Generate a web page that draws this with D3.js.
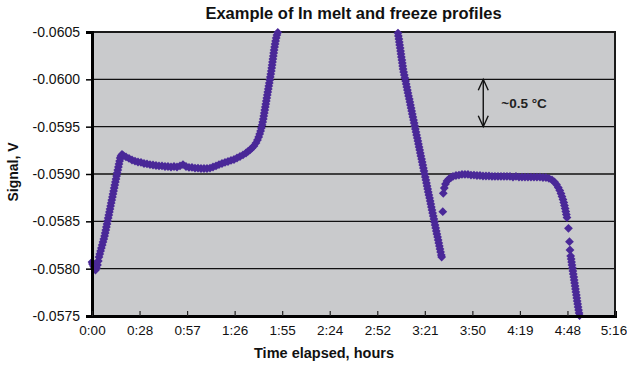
<!DOCTYPE html>
<html>
<head>
<meta charset="utf-8">
<script src="https://cdn.jsdelivr.net/npm/d3@7"></script>
<style>
  body { margin: 0; background: #fff; }
  svg { display: block; font-family: "Liberation Sans", Arial, sans-serif; }
</style>
</head>
<body>
<svg id="chart" width="627" height="365"></svg>
<script>
// Time elapsed in minutes, signal in volts
const meltRise = [
  [0.00, -0.058070], [0.30, -0.058049], [0.91, -0.058028], [1.51, -0.058007], [2.12, -0.057986],
  [2.73, -0.058007], [3.33, -0.058039], [3.82, -0.058081], [4.24, -0.058123], [4.72, -0.058155],
  [5.21, -0.058187], [5.69, -0.058218], [6.18, -0.058250], [6.66, -0.058282], [7.15, -0.058313],
  [7.63, -0.058345], [7.99, -0.058377], [8.36, -0.058408], [8.72, -0.058440], [9.09, -0.058472],
  [9.45, -0.058504], [9.81, -0.058535], [10.18, -0.058567], [10.54, -0.058599], [10.90, -0.058630],
  [11.27, -0.058662], [11.63, -0.058694], [11.99, -0.058725], [12.36, -0.058757], [12.72, -0.058789],
  [13.08, -0.058820], [13.45, -0.058852], [13.81, -0.058884], [14.17, -0.058916], [14.54, -0.058947],
  [14.90, -0.058979], [15.26, -0.059011], [15.63, -0.059042], [15.99, -0.059074], [16.35, -0.059106],
  [16.72, -0.059137], [17.08, -0.059169], [17.56, -0.059190], [18.17, -0.059206]
];
const meltPlateau = [
  [19.08, -0.059195], [20.59, -0.059180], [22.41, -0.059164], [24.23, -0.059148], [26.04, -0.059137],
  [27.86, -0.059127], [29.68, -0.059122], [31.50, -0.059111], [33.31, -0.059106], [35.13, -0.059100],
  [36.95, -0.059095], [38.76, -0.059090], [40.58, -0.059085], [42.40, -0.059085], [44.22, -0.059079],
  [46.03, -0.059079], [47.85, -0.059074], [49.67, -0.059079], [51.48, -0.059074], [53.30, -0.059085],
  [55.12, -0.059100], [56.94, -0.059079], [58.75, -0.059069], [60.57, -0.059069], [62.39, -0.059063],
  [64.20, -0.059063], [66.02, -0.059058], [67.84, -0.059058], [69.65, -0.059058], [71.47, -0.059063],
  [73.29, -0.059074], [75.11, -0.059085], [76.92, -0.059100], [78.74, -0.059111], [80.56, -0.059122],
  [82.37, -0.059132], [84.19, -0.059143], [86.01, -0.059153], [87.83, -0.059169], [89.64, -0.059185],
  [91.46, -0.059201], [93.28, -0.059222], [94.49, -0.059238], [95.70, -0.059254], [96.91, -0.059275],
  [98.12, -0.059296], [99.33, -0.059328]
];
const meltUp = [
  [100.24, -0.059359], [100.97, -0.059391], [101.57, -0.059423], [102.12, -0.059454], [102.60, -0.059486],
  [103.03, -0.059518], [103.39, -0.059549], [103.76, -0.059581], [104.06, -0.059613], [104.36, -0.059644],
  [104.66, -0.059676], [104.97, -0.059708], [105.27, -0.059739], [105.57, -0.059771], [105.88, -0.059803],
  [106.18, -0.059835], [106.48, -0.059866], [106.78, -0.059898], [107.09, -0.059930], [107.39, -0.059961],
  [107.69, -0.059993], [108.00, -0.060025], [108.30, -0.060056], [108.60, -0.060088], [108.84, -0.060120],
  [109.09, -0.060151], [109.33, -0.060183], [109.57, -0.060215], [109.81, -0.060246], [110.05, -0.060278],
  [110.30, -0.060310], [110.60, -0.060342], [110.90, -0.060373], [111.21, -0.060405], [111.57, -0.060437],
  [111.99, -0.060468], [112.54, -0.060495]
];
const coolDown = [
  [185.34, -0.060489], [185.58, -0.060458], [185.89, -0.060426], [186.13, -0.060394], [186.37, -0.060363],
  [186.67, -0.060331], [186.92, -0.060299], [187.16, -0.060268], [187.40, -0.060236], [187.70, -0.060204],
  [187.95, -0.060173], [188.19, -0.060141], [188.43, -0.060109], [188.79, -0.060077], [189.16, -0.060046],
  [189.52, -0.060014], [189.95, -0.059982], [190.31, -0.059951], [190.67, -0.059919], [191.04, -0.059887],
  [191.40, -0.059856], [191.76, -0.059824], [192.19, -0.059792], [192.55, -0.059761], [192.91, -0.059729],
  [193.28, -0.059697], [193.64, -0.059666], [194.00, -0.059634], [194.37, -0.059602], [194.79, -0.059570],
  [195.15, -0.059539], [195.52, -0.059507], [195.88, -0.059475], [196.24, -0.059444], [196.61, -0.059412],
  [197.03, -0.059380], [197.40, -0.059349], [197.76, -0.059317], [198.12, -0.059285], [198.49, -0.059254],
  [198.85, -0.059222], [199.21, -0.059190], [199.64, -0.059158], [200.00, -0.059127], [200.36, -0.059095],
  [200.73, -0.059063], [201.09, -0.059032], [201.45, -0.059000], [201.88, -0.058968], [202.24, -0.058937],
  [202.60, -0.058905], [202.97, -0.058873], [203.33, -0.058842], [203.69, -0.058810], [204.06, -0.058778],
  [204.48, -0.058747], [204.85, -0.058715], [205.21, -0.058683], [205.57, -0.058651], [205.94, -0.058620],
  [206.30, -0.058588], [206.72, -0.058556], [207.09, -0.058525], [207.45, -0.058493], [207.81, -0.058461],
  [208.18, -0.058430], [208.54, -0.058398], [208.90, -0.058366], [209.33, -0.058335], [209.69, -0.058303],
  [210.05, -0.058271], [210.42, -0.058239], [210.78, -0.058208], [211.14, -0.058176], [211.57, -0.058144],
  [211.81, -0.058123]
];
const freezePlateau = [
  [212.48, -0.058602], [212.78, -0.058796], [213.39, -0.058852], [214.11, -0.058894], [215.02, -0.058926],
  [216.23, -0.058947], [217.44, -0.058963], [218.66, -0.058974], [220.47, -0.058984], [222.29, -0.058989],
  [224.11, -0.058995], [225.92, -0.058995], [227.74, -0.058995], [229.56, -0.058989], [231.37, -0.058989],
  [233.19, -0.058984], [235.01, -0.058984], [236.83, -0.058979], [238.64, -0.058979], [240.46, -0.058979],
  [242.28, -0.058974], [244.09, -0.058974], [245.91, -0.058974], [247.73, -0.058974], [249.55, -0.058974],
  [251.36, -0.058974], [253.18, -0.058974], [255.00, -0.058968], [256.81, -0.058974], [258.63, -0.058968],
  [260.45, -0.058968], [262.27, -0.058968], [264.08, -0.058968], [265.90, -0.058968], [267.72, -0.058968],
  [269.53, -0.058968], [271.35, -0.058968], [273.17, -0.058963], [274.98, -0.058963], [276.80, -0.058953],
  [278.62, -0.058937], [280.13, -0.058916], [281.34, -0.058889]
];
const freezeDown = [
  [282.44, -0.058857], [283.34, -0.058826], [284.07, -0.058794], [284.68, -0.058762], [285.28, -0.058731],
  [285.77, -0.058699], [286.19, -0.058667], [286.61, -0.058636], [286.98, -0.058604], [287.34, -0.058572],
  [287.70, -0.058540], [288.61, -0.058426], [289.22, -0.058285], [289.52, -0.058197], [289.95, -0.058134],
  [290.25, -0.058102], [290.49, -0.058070], [290.73, -0.058039], [291.04, -0.058007], [291.28, -0.057975],
  [291.52, -0.057944], [291.82, -0.057912], [292.07, -0.057880], [292.31, -0.057849], [292.61, -0.057817],
  [292.85, -0.057785], [293.09, -0.057754], [293.40, -0.057722], [293.64, -0.057690], [293.88, -0.057658],
  [294.18, -0.057627], [294.43, -0.057595], [294.73, -0.057563], [295.03, -0.057532], [295.34, -0.057505]
];

const yTicks = [-0.0605, -0.0600, -0.0595, -0.0590, -0.0585, -0.0580, -0.0575];
const xTicks = [0, 28.8, 57.6, 86.4, 115.2, 144, 172.8, 201.6, 230.4, 259.2, 288, 316.8];
const xTickLabels = ["0:00", "0:28", "0:57", "1:26", "1:55", "2:24", "2:52", "3:21", "3:50", "4:19", "4:48", "5:16"];

const title = "Example of In melt and freeze profiles";
const xTitle = "Time elapsed, hours";
const yTitle = "Signal, V";
const spanNote = "~0.5 \u00B0C";
const spanTime = 237;               // minutes, where the double arrow sits
const spanRange = [-0.0600, -0.0595];

const margin = { top: 32, right: 12, bottom: 49, left: 92 };
const width = 627 - margin.left - margin.right;
const height = 365 - margin.top - margin.bottom;

const x = d3.scaleLinear().domain([0, 316.8]).range([0, width]);
// more negative signal at the top
const y = d3.scaleLinear().domain([-0.0605, -0.0575]).range([0, height]);

const fmt = d3.formatLocale({ decimal: ".", thousands: ",", grouping: [3], currency: ["", ""], minus: "-" }).format(".4f");

const svg = d3.select("#chart");
const g = svg.append("g").attr("transform", `translate(${margin.left},${margin.top})`);

g.append("rect")
  .attr("width", width)
  .attr("height", height)
  .attr("fill", "#c9cacc");

// gridlines
g.append("g")
  .selectAll("line")
  .data(yTicks.slice(1, -1))
  .join("line")
  .attr("x1", 0)
  .attr("x2", width)
  .attr("y1", d => y(d))
  .attr("y2", d => y(d))
  .attr("stroke", "#111")
  .attr("stroke-width", 1.3);

// frame
g.append("rect")
  .attr("width", width)
  .attr("height", height)
  .attr("fill", "none")
  .attr("stroke", "#1a1a1a")
  .attr("stroke-width", 2);

// data
const series = [meltRise, meltPlateau, meltUp, coolDown, freezePlateau, freezeDown].flat();
const r = 4.4;
g.append("g")
  .selectAll("path")
  .data(series)
  .join("path")
  .attr("d", `M0,${-r}L${r},0L0,${r}L${-r},0Z`)
  .attr("transform", d => `translate(${x(d[0])},${y(d[1])})`)
  .attr("fill", "#4a2898");

// axes
const yAxis = g.append("g")
  .call(d3.axisLeft(y).tickValues(yTicks).tickFormat(fmt).tickSize(6).tickPadding(6));
yAxis.select(".domain").attr("stroke", "#000").attr("stroke-width", 3);
yAxis.selectAll(".tick line").attr("stroke", "#000").attr("stroke-width", 1.5);
yAxis.selectAll("text").attr("font-size", 14).attr("fill", "#111")
  .attr("font-family", "Liberation Sans, Arial, sans-serif");

const xAxis = g.append("g")
  .attr("transform", `translate(0,${height})`)
  .call(d3.axisBottom(x).tickValues(xTicks).tickFormat((d, i) => xTickLabels[i]).tickSize(-5).tickPadding(9));
xAxis.select(".domain").attr("stroke", "#000").attr("stroke-width", 3);
xAxis.selectAll(".tick line").attr("stroke", "#222").attr("stroke-width", 1.2);
xAxis.selectAll("text").attr("font-size", 13.5).attr("fill", "#111")
  .attr("font-family", "Liberation Sans, Arial, sans-serif")
  .attr("dx", (d, i) => i === xTicks.length - 1 ? -1.5 : 0);

// annotation: double arrow spanning ~0.5 °C
const ax = x(spanTime);
const y0 = y(spanRange[0]);
const y1 = y(spanRange[1]);
const ann = g.append("g").attr("stroke", "#111").attr("stroke-width", 1.4).attr("fill", "none");
ann.append("line").attr("x1", ax).attr("x2", ax).attr("y1", y0).attr("y2", y1);
ann.append("path").attr("d", `M${ax - 5},${y0 + 11}L${ax},${y0}L${ax + 5},${y0 + 11}`);
ann.append("path").attr("d", `M${ax - 5},${y1 - 11}L${ax},${y1}L${ax + 5},${y1 - 11}`);
g.append("text")
  .attr("x", ax + 18)
  .attr("y", (y0 + y1) / 2 + 5)
  .attr("font-size", 13.5)
  .attr("font-weight", "bold")
  .attr("fill", "#222")
  .text(spanNote);

// titles
svg.append("text")
  .attr("x", margin.left + width / 2)
  .attr("y", 18.5)
  .attr("text-anchor", "middle")
  .attr("font-size", 16.5)
  .attr("font-weight", "bold")
  .attr("fill", "#111")
  .text(title);

svg.append("text")
  .attr("x", 324)
  .attr("y", 358)
  .attr("text-anchor", "middle")
  .attr("font-size", 14.5)
  .attr("font-weight", "bold")
  .attr("fill", "#111")
  .text(xTitle);

svg.append("text")
  .attr("transform", `translate(18,172) rotate(-90)`)
  .attr("text-anchor", "middle")
  .attr("font-size", 14)
  .attr("font-weight", "bold")
  .attr("fill", "#111")
  .text(yTitle);
</script>
</body>
</html>
